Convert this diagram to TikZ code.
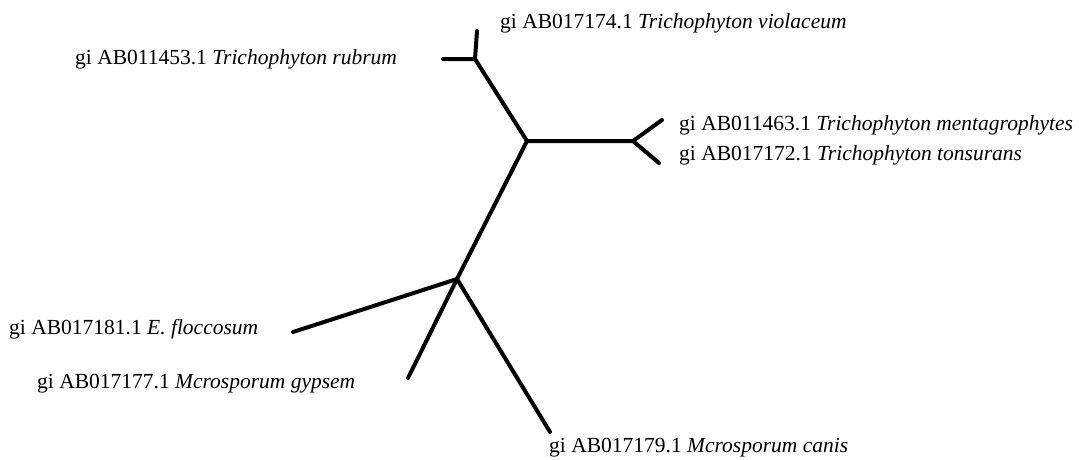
\documentclass[tikz,border=0pt]{standalone}
\usepackage{fontspec}
\setmainfont{Liberation Serif}

\tikzset{
	branch/.style={line width=4pt, line cap=round, line join=round},
	taxon/.style={anchor=west, inner sep=0pt, font=\fontsize{21.5}{24}\selectfont}
}

\begin{document}
\begin{tikzpicture}[x=1pt, y=-1pt]
		%%%%% START %%%%%
		\useasboundingbox (0, 0) rectangle (1079, 459);
		
		% inner junctions
		\coordinate (rub) at (475, 59);
		\coordinate (trich) at (527, 141);
		\coordinate (ment) at (633, 141);
		\coordinate (micro) at (457, 279);
		
		% branch tips
		\coordinate (viotip) at (477, 31);
		\coordinate (rubtip) at (443, 59);
		\coordinate (menttip) at (662, 120);
		\coordinate (tontip) at (659, 163);
		\coordinate (floctip) at (293, 332);
		\coordinate (gyptip) at (408, 378);
		\coordinate (cantip) at (550, 432);
		
		% taxon labels
		\node[taxon] (vio) at (500, 23) {gi AB017174.1 \textit{Trichophyton violaceum}};
		\node[taxon] (rubr) at (75, 59) {gi AB011453.1 \textit{Trichophyton rubrum}};
		\node[taxon] (menta) at (679, 125) {gi AB011463.1 \textit{Trichophyton mentagrophytes}};
		\node[taxon] (tons) at (679, 155) {gi AB017172.1 \textit{Trichophyton tonsurans}};
		\node[taxon] (flocc) at (9, 329) {gi AB017181.1 \textit{E. floccosum}};
		\node[taxon] (gyps) at (37, 384) {gi AB017177.1 \textit{Mcrosporum gypsem}};
		\node[taxon] (cani) at (549, 448) {gi AB017179.1 \textit{Mcrosporum canis}};
		
		% tree
		\draw[branch] (rubtip) -- (rub) -- (viotip);
		\draw[branch] (rub) -- (trich) -- (ment);
		\draw[branch] (menttip) -- (ment) -- (tontip);
		\draw[branch] (trich) -- (micro);
		\draw[branch] (floctip) -- (micro) -- (cantip);
		\draw[branch] (micro) -- (gyptip);
		%%%%% END %%%%%
	\end{tikzpicture}
\end{document}
